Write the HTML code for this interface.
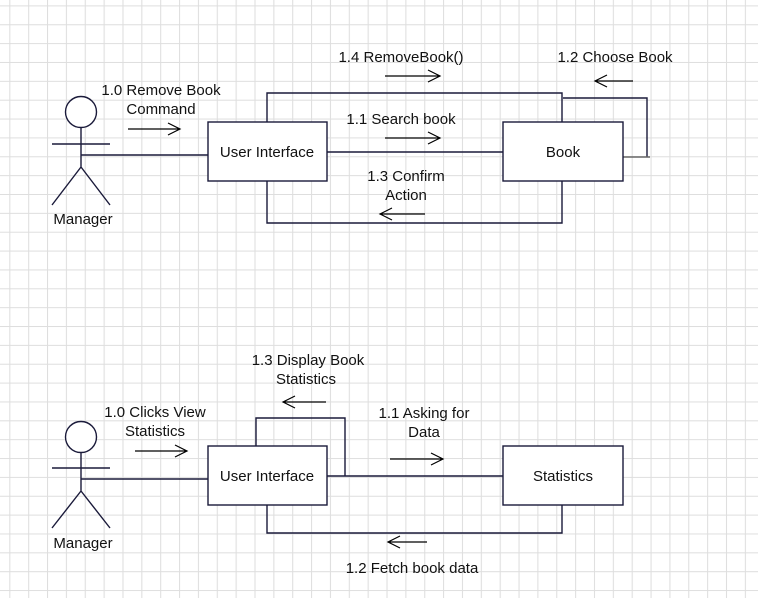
<!DOCTYPE html>
<html><head><meta charset="utf-8"><style>
html,body{margin:0;padding:0;background:#fff}
svg{display:block}
text{font-family:"Liberation Sans",Arial,sans-serif;font-size:15px;fill:#111;text-anchor:middle}
</style></head><body>
<svg width="758" height="598" viewBox="0 0 758 598" xmlns="http://www.w3.org/2000/svg">
<defs>
<pattern id="g" x="9.3" y="5.4" width="18.86" height="18.86" patternUnits="userSpaceOnUse">
<path d="M0.5 0V18.86M0 0.5H18.86" stroke="#dedede" stroke-width="1.1" fill="none"/>
</pattern>
</defs>
<rect width="758" height="598" fill="url(#g)"/>
<g fill="none" stroke="#1a1a3a" stroke-width="1.4">
<circle cx="81" cy="112" r="15.5" fill="#fff"/>
<path d="M81 128V167M52 144H110M81 167L52 205M81 167L110 205"/>
<path d="M81 155H208"/>
<path d="M267 122V93H562V122"/>
<path d="M267 181V223H562V181"/>
<path d="M327 152H503"/>
<path d="M563 98H647V157"/>
<path d="M623 157H650" stroke="#666"/>
<rect x="208" y="122" width="119" height="59" fill="#fff"/>
<rect x="503" y="122" width="120" height="59" fill="#fff"/>
<circle cx="81" cy="437" r="15.5" fill="#fff"/>
<path d="M81 453V491M52 468H110M81 491L52 528M81 491L110 528"/>
<path d="M81 479H208"/>
<path d="M256 446V418H345V476"/>
<path d="M327 476H503"/>
<path d="M267 505V533H562V505"/>
<rect x="208" y="446" width="119" height="59" fill="#fff"/>
<rect x="503" y="446" width="120" height="59" fill="#fff"/>
</g>
<g fill="none" stroke="#000" stroke-width="1.2">
<path d="M128 129H180M168 123L180 129L168 135"/>
<path d="M385 76H440M428 70L440 76L428 82"/>
<path d="M633 81H595M607 75L595 81L607 87"/>
<path d="M385 138H440M428 132L440 138L428 144"/>
<path d="M425 214H380M392 208L380 214L392 220"/>
<path d="M135 451H187M175 445L187 451L175 457"/>
<path d="M326 402H283M295 396L283 402L295 408"/>
<path d="M390 459H443M431 453L443 459L431 465"/>
<path d="M427 542H388M400 536L388 542L400 548"/>
</g>
<text x="161" y="95">1.0 Remove Book</text>
<text x="161" y="114">Command</text>
<text x="83" y="224">Manager</text>
<text x="267" y="157">User Interface</text>
<text x="563" y="157">Book</text>
<text x="401" y="62">1.4 RemoveBook()</text>
<text x="615" y="62">1.2 Choose Book</text>
<text x="401" y="124">1.1 Search book</text>
<text x="406" y="181">1.3 Confirm</text>
<text x="406" y="200">Action</text>
<text x="308" y="365">1.3 Display Book</text>
<text x="306" y="384">Statistics</text>
<text x="155" y="417">1.0 Clicks View</text>
<text x="155" y="436">Statistics</text>
<text x="424" y="418">1.1 Asking for</text>
<text x="424" y="437">Data</text>
<text x="83" y="548">Manager</text>
<text x="267" y="481">User Interface</text>
<text x="563" y="481">Statistics</text>
<text x="412" y="573">1.2 Fetch book data</text>
</svg>
</body></html>
